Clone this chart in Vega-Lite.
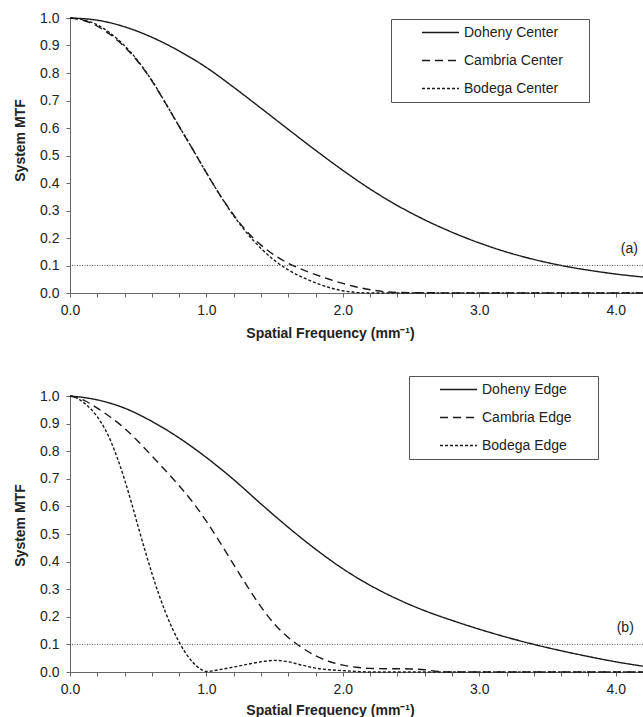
{
  "$schema": "https://vega.github.io/schema/vega-lite/v6.json",
  "padding": {"left": 13, "top": 11, "right": 0, "bottom": 0},
  "background": "white",
  "spacing": 35,
  "resolve": {"scale": {"strokeDash": "independent"}, "legend": {"strokeDash": "independent"}},
  "config": {
    "font": "Liberation Sans",
    "view": {"stroke": null},
    "axis": {
      "grid": false,
      "domainColor": "#666",
      "tickColor": "#666",
      "tickSize": 4,
      "labelOverlap": false,
      "labelFlush": false,
      "labelBound": false,
      "labelFont": "Liberation Sans",
      "labelFontSize": 14,
      "labelColor": "#222",
      "titleFont": "Liberation Sans",
      "titleFontSize": 14,
      "titleFontWeight": "bold",
      "titleColor": "#222"
    },
    "axisX": {"labelPadding": 6, "titlePadding": 9},
    "axisY": {"labelPadding": 7, "titlePadding": 12},
    "legend": {
      "orient": "none",
      "direction": "vertical",
      "title": null,
      "symbolType": "stroke",
      "symbolSize": 1369,
      "symbolStrokeWidth": 1.3,
      "symbolStrokeColor": "#1a1a1a",
      "clipHeight": 15,
      "rowPadding": 13,
      "padding": 6,
      "symbolOffset": 24,
      "labelOffset": 4,
      "labelFont": "Liberation Sans",
      "labelFontSize": 14,
      "labelColor": "#222",
      "strokeColor": "#555",
      "fillColor": "white"
    }
  },
  "datasets": {
    "center": [
      {"series": "Doheny Center", "x": 0.0, "y": 1.0},
      {"series": "Doheny Center", "x": 0.2, "y": 0.992},
      {"series": "Doheny Center", "x": 0.4, "y": 0.968},
      {"series": "Doheny Center", "x": 0.6, "y": 0.93},
      {"series": "Doheny Center", "x": 0.8, "y": 0.88},
      {"series": "Doheny Center", "x": 1.0, "y": 0.82},
      {"series": "Doheny Center", "x": 1.2, "y": 0.748},
      {"series": "Doheny Center", "x": 1.4, "y": 0.672},
      {"series": "Doheny Center", "x": 1.6, "y": 0.595},
      {"series": "Doheny Center", "x": 1.8, "y": 0.519},
      {"series": "Doheny Center", "x": 2.0, "y": 0.446},
      {"series": "Doheny Center", "x": 2.2, "y": 0.378},
      {"series": "Doheny Center", "x": 2.4, "y": 0.318},
      {"series": "Doheny Center", "x": 2.6, "y": 0.266},
      {"series": "Doheny Center", "x": 2.8, "y": 0.221},
      {"series": "Doheny Center", "x": 3.0, "y": 0.182},
      {"series": "Doheny Center", "x": 3.2, "y": 0.149},
      {"series": "Doheny Center", "x": 3.4, "y": 0.122},
      {"series": "Doheny Center", "x": 3.6, "y": 0.1},
      {"series": "Doheny Center", "x": 3.8, "y": 0.083},
      {"series": "Doheny Center", "x": 4.0, "y": 0.069},
      {"series": "Doheny Center", "x": 4.2, "y": 0.058},
      {"series": "Cambria Center", "x": 0.0, "y": 1.0},
      {"series": "Cambria Center", "x": 0.1, "y": 0.991},
      {"series": "Cambria Center", "x": 0.2, "y": 0.97},
      {"series": "Cambria Center", "x": 0.3, "y": 0.938},
      {"series": "Cambria Center", "x": 0.4, "y": 0.895},
      {"series": "Cambria Center", "x": 0.5, "y": 0.84},
      {"series": "Cambria Center", "x": 0.6, "y": 0.771},
      {"series": "Cambria Center", "x": 0.7, "y": 0.69},
      {"series": "Cambria Center", "x": 0.8, "y": 0.606},
      {"series": "Cambria Center", "x": 0.9, "y": 0.522},
      {"series": "Cambria Center", "x": 1.0, "y": 0.437},
      {"series": "Cambria Center", "x": 1.1, "y": 0.356},
      {"series": "Cambria Center", "x": 1.2, "y": 0.283},
      {"series": "Cambria Center", "x": 1.3, "y": 0.222},
      {"series": "Cambria Center", "x": 1.4, "y": 0.174},
      {"series": "Cambria Center", "x": 1.5, "y": 0.137},
      {"series": "Cambria Center", "x": 1.6, "y": 0.108},
      {"series": "Cambria Center", "x": 1.7, "y": 0.086},
      {"series": "Cambria Center", "x": 1.8, "y": 0.067},
      {"series": "Cambria Center", "x": 1.9, "y": 0.05},
      {"series": "Cambria Center", "x": 2.0, "y": 0.035},
      {"series": "Cambria Center", "x": 2.1, "y": 0.022},
      {"series": "Cambria Center", "x": 2.2, "y": 0.012},
      {"series": "Cambria Center", "x": 2.3, "y": 0.005},
      {"series": "Cambria Center", "x": 2.4, "y": 0.002},
      {"series": "Cambria Center", "x": 2.6, "y": 0.001},
      {"series": "Cambria Center", "x": 3.0, "y": 0.0},
      {"series": "Cambria Center", "x": 3.6, "y": 0.0},
      {"series": "Cambria Center", "x": 4.2, "y": 0.0},
      {"series": "Bodega Center", "x": 0.0, "y": 1.0},
      {"series": "Bodega Center", "x": 0.1, "y": 0.993},
      {"series": "Bodega Center", "x": 0.2, "y": 0.975},
      {"series": "Bodega Center", "x": 0.3, "y": 0.943},
      {"series": "Bodega Center", "x": 0.4, "y": 0.899},
      {"series": "Bodega Center", "x": 0.5, "y": 0.843},
      {"series": "Bodega Center", "x": 0.6, "y": 0.773},
      {"series": "Bodega Center", "x": 0.7, "y": 0.691},
      {"series": "Bodega Center", "x": 0.8, "y": 0.606},
      {"series": "Bodega Center", "x": 0.9, "y": 0.522},
      {"series": "Bodega Center", "x": 1.0, "y": 0.437},
      {"series": "Bodega Center", "x": 1.1, "y": 0.355},
      {"series": "Bodega Center", "x": 1.2, "y": 0.281},
      {"series": "Bodega Center", "x": 1.3, "y": 0.216},
      {"series": "Bodega Center", "x": 1.4, "y": 0.162},
      {"series": "Bodega Center", "x": 1.5, "y": 0.118},
      {"series": "Bodega Center", "x": 1.6, "y": 0.084},
      {"series": "Bodega Center", "x": 1.7, "y": 0.058},
      {"series": "Bodega Center", "x": 1.8, "y": 0.037},
      {"series": "Bodega Center", "x": 1.9, "y": 0.02},
      {"series": "Bodega Center", "x": 2.0, "y": 0.008},
      {"series": "Bodega Center", "x": 2.1, "y": 0.002},
      {"series": "Bodega Center", "x": 2.2, "y": 0.0},
      {"series": "Bodega Center", "x": 3.0, "y": 0.0},
      {"series": "Bodega Center", "x": 3.6, "y": 0.0},
      {"series": "Bodega Center", "x": 4.2, "y": 0.0}
    ],
    "edge": [
      {"series": "Doheny Edge", "x": 0.0, "y": 1.0},
      {"series": "Doheny Edge", "x": 0.2, "y": 0.986},
      {"series": "Doheny Edge", "x": 0.4, "y": 0.956},
      {"series": "Doheny Edge", "x": 0.6, "y": 0.908},
      {"series": "Doheny Edge", "x": 0.8, "y": 0.848},
      {"series": "Doheny Edge", "x": 1.0, "y": 0.777},
      {"series": "Doheny Edge", "x": 1.2, "y": 0.697},
      {"series": "Doheny Edge", "x": 1.4, "y": 0.609},
      {"series": "Doheny Edge", "x": 1.6, "y": 0.524},
      {"series": "Doheny Edge", "x": 1.8, "y": 0.445},
      {"series": "Doheny Edge", "x": 2.0, "y": 0.374},
      {"series": "Doheny Edge", "x": 2.2, "y": 0.314},
      {"series": "Doheny Edge", "x": 2.4, "y": 0.264},
      {"series": "Doheny Edge", "x": 2.6, "y": 0.222},
      {"series": "Doheny Edge", "x": 2.8, "y": 0.187},
      {"series": "Doheny Edge", "x": 3.0, "y": 0.155},
      {"series": "Doheny Edge", "x": 3.2, "y": 0.126},
      {"series": "Doheny Edge", "x": 3.4, "y": 0.1},
      {"series": "Doheny Edge", "x": 3.6, "y": 0.077},
      {"series": "Doheny Edge", "x": 3.8, "y": 0.056},
      {"series": "Doheny Edge", "x": 4.0, "y": 0.037},
      {"series": "Doheny Edge", "x": 4.2, "y": 0.021},
      {"series": "Cambria Edge", "x": 0.0, "y": 1.0},
      {"series": "Cambria Edge", "x": 0.1, "y": 0.985},
      {"series": "Cambria Edge", "x": 0.2, "y": 0.956},
      {"series": "Cambria Edge", "x": 0.3, "y": 0.922},
      {"series": "Cambria Edge", "x": 0.4, "y": 0.883},
      {"series": "Cambria Edge", "x": 0.5, "y": 0.835},
      {"series": "Cambria Edge", "x": 0.6, "y": 0.783},
      {"series": "Cambria Edge", "x": 0.7, "y": 0.73},
      {"series": "Cambria Edge", "x": 0.8, "y": 0.675},
      {"series": "Cambria Edge", "x": 0.9, "y": 0.615},
      {"series": "Cambria Edge", "x": 1.0, "y": 0.546},
      {"series": "Cambria Edge", "x": 1.1, "y": 0.469},
      {"series": "Cambria Edge", "x": 1.2, "y": 0.389},
      {"series": "Cambria Edge", "x": 1.3, "y": 0.31},
      {"series": "Cambria Edge", "x": 1.4, "y": 0.236},
      {"series": "Cambria Edge", "x": 1.5, "y": 0.173},
      {"series": "Cambria Edge", "x": 1.6, "y": 0.125},
      {"series": "Cambria Edge", "x": 1.7, "y": 0.088},
      {"series": "Cambria Edge", "x": 1.8, "y": 0.059},
      {"series": "Cambria Edge", "x": 1.9, "y": 0.038},
      {"series": "Cambria Edge", "x": 2.0, "y": 0.025},
      {"series": "Cambria Edge", "x": 2.1, "y": 0.017},
      {"series": "Cambria Edge", "x": 2.2, "y": 0.013},
      {"series": "Cambria Edge", "x": 2.3, "y": 0.012},
      {"series": "Cambria Edge", "x": 2.4, "y": 0.012},
      {"series": "Cambria Edge", "x": 2.5, "y": 0.011},
      {"series": "Cambria Edge", "x": 2.6, "y": 0.008},
      {"series": "Cambria Edge", "x": 2.7, "y": 0.002},
      {"series": "Cambria Edge", "x": 2.8, "y": 0.0},
      {"series": "Cambria Edge", "x": 3.4, "y": 0.0},
      {"series": "Cambria Edge", "x": 4.2, "y": 0.0},
      {"series": "Bodega Edge", "x": 0.0, "y": 1.0},
      {"series": "Bodega Edge", "x": 0.05, "y": 0.993},
      {"series": "Bodega Edge", "x": 0.1, "y": 0.976},
      {"series": "Bodega Edge", "x": 0.15, "y": 0.954},
      {"series": "Bodega Edge", "x": 0.2, "y": 0.925},
      {"series": "Bodega Edge", "x": 0.25, "y": 0.886},
      {"series": "Bodega Edge", "x": 0.3, "y": 0.835},
      {"series": "Bodega Edge", "x": 0.35, "y": 0.771},
      {"series": "Bodega Edge", "x": 0.4, "y": 0.697},
      {"series": "Bodega Edge", "x": 0.45, "y": 0.614},
      {"series": "Bodega Edge", "x": 0.5, "y": 0.526},
      {"series": "Bodega Edge", "x": 0.55, "y": 0.44},
      {"series": "Bodega Edge", "x": 0.6, "y": 0.358},
      {"series": "Bodega Edge", "x": 0.65, "y": 0.283},
      {"series": "Bodega Edge", "x": 0.7, "y": 0.216},
      {"series": "Bodega Edge", "x": 0.75, "y": 0.158},
      {"series": "Bodega Edge", "x": 0.8, "y": 0.108},
      {"series": "Bodega Edge", "x": 0.85, "y": 0.067},
      {"series": "Bodega Edge", "x": 0.9, "y": 0.035},
      {"series": "Bodega Edge", "x": 0.95, "y": 0.013},
      {"series": "Bodega Edge", "x": 1.0, "y": 0.002},
      {"series": "Bodega Edge", "x": 1.1, "y": 0.009},
      {"series": "Bodega Edge", "x": 1.2, "y": 0.018},
      {"series": "Bodega Edge", "x": 1.3, "y": 0.028},
      {"series": "Bodega Edge", "x": 1.4, "y": 0.037},
      {"series": "Bodega Edge", "x": 1.5, "y": 0.042},
      {"series": "Bodega Edge", "x": 1.6, "y": 0.037},
      {"series": "Bodega Edge", "x": 1.7, "y": 0.025},
      {"series": "Bodega Edge", "x": 1.8, "y": 0.014},
      {"series": "Bodega Edge", "x": 1.9, "y": 0.008},
      {"series": "Bodega Edge", "x": 2.0, "y": 0.005},
      {"series": "Bodega Edge", "x": 2.1, "y": 0.002},
      {"series": "Bodega Edge", "x": 2.2, "y": 0.0},
      {"series": "Bodega Edge", "x": 3.0, "y": 0.0},
      {"series": "Bodega Edge", "x": 3.6, "y": 0.0},
      {"series": "Bodega Edge", "x": 4.2, "y": 0.0}
    ],
    "threshold": [{"y": 0.1}],
    "majorTicks": [{"x": 1}, {"x": 2}, {"x": 3}, {"x": 4}],
    "tagA": [{"x": 4.1, "y": 0.16, "label": "(a)"}],
    "tagB": [{"x": 4.07, "y": 0.16, "label": "(b)"}]
  },
  "vconcat": [
    {
      "width": 573,
      "height": 275,
      "encoding": {
        "x": {"field": "x", "type": "quantitative", "title": "Spatial Frequency (mm⁻¹)", "scale": {"domain": [0, 4.2], "nice": false},
          "axis": {"values": [0, 0.2, 0.4, 0.6, 0.8, 1, 1.2, 1.4, 1.6, 1.8, 2, 2.2, 2.4, 2.6, 2.8, 3, 3.2, 3.4, 3.6, 3.8, 4],
            "labelExpr": "abs(datum.value - round(datum.value)) < 0.001 ? format(datum.value, '.1f') : ''",
            "labelOverlap": false, "titleX": 260, "titleAlign": "center"}},
        "y": {"field": "y", "type": "quantitative", "title": "System MTF", "scale": {"domain": [0, 1], "nice": false},
          "axis": {"values": [0, 0.1, 0.2, 0.3, 0.4, 0.5, 0.6, 0.7, 0.8, 0.9, 1], "format": ".1f", "labelOverlap": false, "titleY": 122}}
      },
      "layer": [
        {
          "data": {"name": "center"},
          "mark": {"type": "line", "interpolate": "monotone", "strokeWidth": 1.4, "color": "#1a1a1a"},
          "encoding": {
            "strokeDash": {"field": "series", "type": "nominal",
              "scale": {"domain": ["Doheny Center", "Cambria Center", "Bodega Center"], "range": [[1, 0], [8, 5], [3, 2]]},
              "legend": {"legendX": 321, "legendY": 1, "labelExpr": "datum.label + '\u2800\u2800'"}},
            "order": {"field": "x", "type": "quantitative"}
          }
        },
        {
          "data": {"name": "threshold"},
          "mark": {"type": "rule", "color": "#555", "strokeWidth": 1, "strokeDash": [1, 1.5]},
          "encoding": {"x": null}
        },
        {
          "data": {"name": "majorTicks"},
          "mark": {"type": "tick", "orient": "vertical", "size": 8, "thickness": 1, "color": "#666"},
          "encoding": {"y": {"datum": 0, "type": "quantitative"}}
        },
        {
          "data": {"name": "tagA"},
          "mark": {"type": "text", "font": "Liberation Sans", "fontSize": 14, "color": "#222"},
          "encoding": {"text": {"field": "label"}}
        }
      ]
    },
    {
      "width": 573,
      "height": 276,
      "encoding": {
        "x": {"field": "x", "type": "quantitative", "title": "Spatial Frequency (mm⁻¹)", "scale": {"domain": [0, 4.2], "nice": false},
          "axis": {"values": [0, 0.2, 0.4, 0.6, 0.8, 1, 1.2, 1.4, 1.6, 1.8, 2, 2.2, 2.4, 2.6, 2.8, 3, 3.2, 3.4, 3.6, 3.8, 4],
            "labelExpr": "abs(datum.value - round(datum.value)) < 0.001 ? format(datum.value, '.1f') : ''",
            "labelOverlap": false, "titleX": 260, "titleAlign": "center", "titlePadding": 7}},
        "y": {"field": "y", "type": "quantitative", "title": "System MTF", "scale": {"domain": [0, 1], "nice": false},
          "axis": {"values": [0, 0.1, 0.2, 0.3, 0.4, 0.5, 0.6, 0.7, 0.8, 0.9, 1], "format": ".1f", "labelOverlap": false, "titleY": 129}}
      },
      "layer": [
        {
          "data": {"name": "edge"},
          "mark": {"type": "line", "interpolate": "monotone", "strokeWidth": 1.4, "color": "#1a1a1a"},
          "encoding": {
            "strokeDash": {"field": "series", "type": "nominal",
              "scale": {"domain": ["Doheny Edge", "Cambria Edge", "Bodega Edge"], "range": [[1, 0], [8, 5], [3, 2]]},
              "legend": {"legendX": 339, "legendY": -20, "labelExpr": "datum.label + '\u2800\u2800'"}},
            "order": {"field": "x", "type": "quantitative"}
          }
        },
        {
          "data": {"name": "threshold"},
          "mark": {"type": "rule", "color": "#555", "strokeWidth": 1, "strokeDash": [1, 1.5]},
          "encoding": {"x": null}
        },
        {
          "data": {"name": "majorTicks"},
          "mark": {"type": "tick", "orient": "vertical", "size": 8, "thickness": 1, "color": "#666"},
          "encoding": {"y": {"datum": 0, "type": "quantitative"}}
        },
        {
          "data": {"name": "tagB"},
          "mark": {"type": "text", "font": "Liberation Sans", "fontSize": 14, "color": "#222"},
          "encoding": {"text": {"field": "label"}}
        }
      ]
    }
  ]
}
